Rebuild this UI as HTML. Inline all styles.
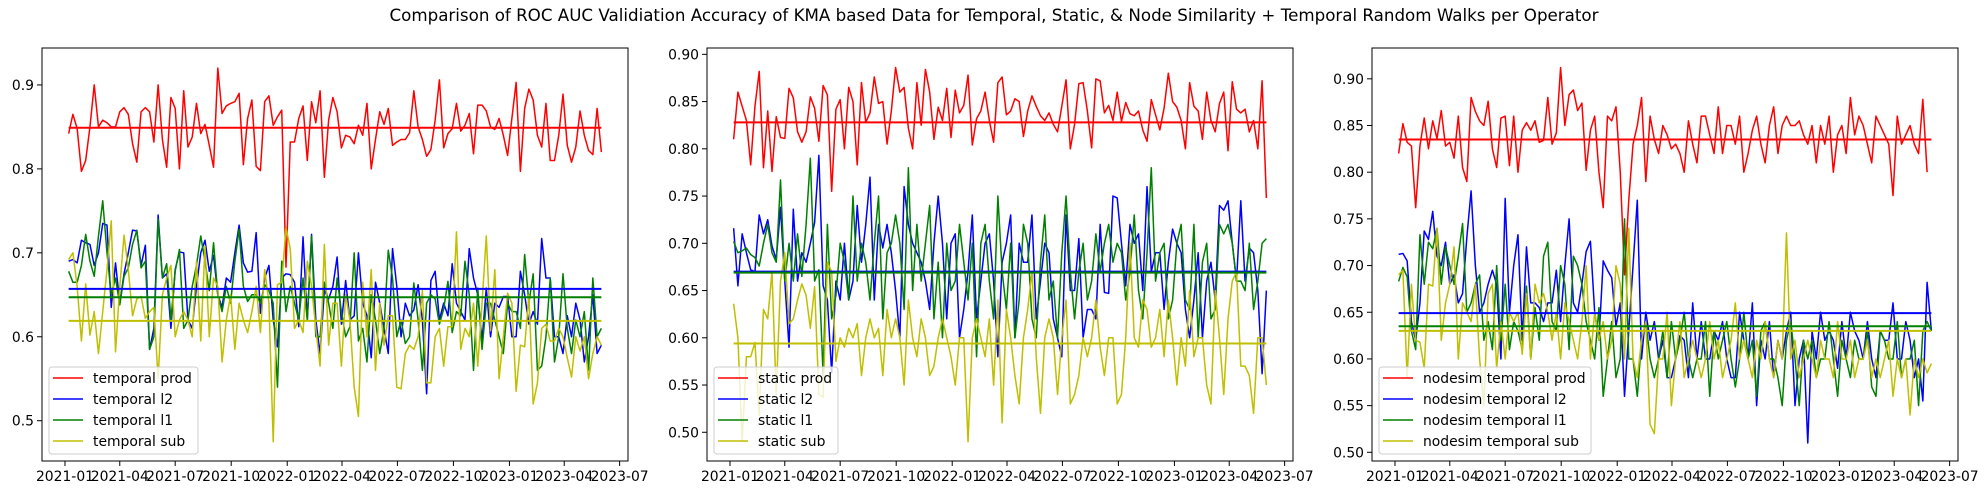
<!DOCTYPE html>
<html><head><meta charset="utf-8"><style>
html,body{margin:0;padding:0;background:#fff;}
svg{display:block;font-family:"DejaVu Sans","Liberation Sans",sans-serif;}
</style></head><body>
<svg id="fig" width="1988" height="495" viewBox="0 0 1988 495" xmlns="http://www.w3.org/2000/svg">
<text x="994" y="21" text-anchor="middle" font-size="16.7" fill="#000">Comparison of ROC AUC Validiation Accuracy of KMA based Data for Temporal, Static, &amp; Node Similarity + Temporal Random Walks per Operator</text>
</svg>
<script>
const N = 126;
const startDate = Date.UTC(2021,0,7);
const dates = [];
for (let i=0;i<N;i++) dates.push(startDate + i*7*86400000);
const tickLabels = ["2021-01","2021-04","2021-07","2021-10","2022-01","2022-04","2022-07","2022-10","2023-01","2023-04","2023-07"];

const p1Names = ["temporal prod","temporal l2","temporal l1","temporal sub"];
const p2Names = ["static prod","static l2","static l1","static sub"];
const p3Names = ["nodesim temporal prod","nodesim temporal l2","nodesim temporal l1","nodesim temporal sub"];

const p1Prod = [0.842,0.865,0.848,0.797,0.81,0.85,0.9,0.85,0.858,0.855,0.85,0.85,0.868,0.873,0.865,0.83,0.808,0.868,0.873,0.868,0.832,0.9,0.835,0.802,0.885,0.872,0.8,0.893,0.826,0.838,0.878,0.842,0.853,0.828,0.802,0.92,0.866,0.875,0.878,0.88,0.89,0.805,0.86,0.882,0.803,0.798,0.88,0.887,0.852,0.862,0.87,0.683,0.832,0.832,0.86,0.875,0.81,0.88,0.855,0.893,0.79,0.858,0.885,0.868,0.825,0.84,0.838,0.83,0.852,0.84,0.878,0.8,0.835,0.868,0.853,0.872,0.828,0.832,0.835,0.835,0.843,0.893,0.85,0.835,0.815,0.823,0.858,0.906,0.825,0.842,0.848,0.878,0.845,0.852,0.866,0.818,0.876,0.876,0.869,0.85,0.847,0.86,0.84,0.816,0.86,0.903,0.797,0.872,0.895,0.882,0.84,0.826,0.878,0.81,0.81,0.84,0.889,0.828,0.808,0.826,0.869,0.84,0.822,0.817,0.872,0.82];
const p1L2 = [0.69,0.692,0.688,0.715,0.712,0.71,0.685,0.7,0.735,0.733,0.635,0.688,0.64,0.675,0.7,0.727,0.726,0.685,0.709,0.585,0.61,0.745,0.67,0.675,0.61,0.68,0.701,0.7,0.62,0.61,0.66,0.7,0.715,0.678,0.697,0.65,0.635,0.67,0.665,0.7,0.733,0.688,0.677,0.678,0.724,0.628,0.67,0.685,0.62,0.588,0.67,0.675,0.674,0.665,0.612,0.719,0.62,0.722,0.62,0.58,0.655,0.645,0.66,0.695,0.615,0.667,0.62,0.625,0.7,0.64,0.625,0.575,0.665,0.64,0.61,0.58,0.705,0.66,0.6,0.64,0.625,0.632,0.662,0.62,0.532,0.667,0.678,0.62,0.64,0.625,0.687,0.64,0.63,0.62,0.705,0.67,0.65,0.595,0.658,0.6,0.64,0.635,0.648,0.648,0.6,0.6,0.678,0.65,0.615,0.63,0.615,0.717,0.67,0.67,0.6,0.6,0.58,0.625,0.6,0.64,0.62,0.57,0.6,0.65,0.58,0.59];
const p1L1 = [0.678,0.665,0.665,0.685,0.722,0.69,0.672,0.72,0.762,0.7,0.65,0.67,0.638,0.672,0.682,0.71,0.727,0.682,0.69,0.585,0.6,0.74,0.67,0.687,0.62,0.678,0.704,0.61,0.62,0.66,0.685,0.72,0.69,0.655,0.712,0.65,0.63,0.66,0.64,0.69,0.728,0.66,0.642,0.65,0.65,0.64,0.662,0.655,0.64,0.54,0.69,0.63,0.66,0.64,0.62,0.67,0.62,0.72,0.6,0.6,0.665,0.64,0.61,0.67,0.63,0.6,0.612,0.7,0.595,0.61,0.57,0.65,0.62,0.58,0.61,0.703,0.67,0.6,0.62,0.592,0.6,0.664,0.62,0.56,0.64,0.65,0.645,0.615,0.633,0.666,0.605,0.63,0.625,0.69,0.65,0.56,0.658,0.585,0.64,0.64,0.62,0.6,0.58,0.64,0.63,0.63,0.61,0.698,0.64,0.675,0.56,0.565,0.6,0.67,0.57,0.6,0.675,0.61,0.58,0.62,0.6,0.63,0.56,0.67,0.6,0.61];
const p1Sub = [0.692,0.7,0.66,0.595,0.663,0.602,0.63,0.58,0.63,0.68,0.738,0.582,0.66,0.721,0.68,0.625,0.645,0.648,0.622,0.63,0.635,0.55,0.65,0.67,0.685,0.6,0.62,0.63,0.62,0.6,0.69,0.595,0.708,0.6,0.67,0.66,0.57,0.62,0.65,0.585,0.64,0.62,0.605,0.63,0.66,0.605,0.68,0.64,0.475,0.662,0.665,0.73,0.705,0.61,0.62,0.605,0.69,0.66,0.61,0.565,0.71,0.59,0.64,0.64,0.565,0.65,0.62,0.54,0.505,0.665,0.6,0.68,0.56,0.64,0.59,0.625,0.625,0.54,0.538,0.58,0.59,0.585,0.6,0.655,0.545,0.545,0.6,0.61,0.565,0.612,0.612,0.725,0.585,0.61,0.6,0.64,0.565,0.64,0.72,0.607,0.68,0.55,0.6,0.652,0.64,0.535,0.59,0.588,0.65,0.52,0.545,0.61,0.615,0.595,0.595,0.61,0.6,0.575,0.552,0.6,0.583,0.6,0.55,0.58,0.6,0.59];
const p1Means = [0.849,0.657,0.647,0.619];

const p2Prod = [0.81,0.86,0.845,0.83,0.783,0.845,0.882,0.78,0.84,0.776,0.834,0.812,0.811,0.864,0.854,0.818,0.807,0.818,0.855,0.843,0.808,0.867,0.857,0.755,0.842,0.852,0.8,0.865,0.85,0.783,0.87,0.828,0.838,0.876,0.848,0.85,0.805,0.84,0.886,0.86,0.865,0.822,0.8,0.87,0.825,0.884,0.86,0.81,0.844,0.83,0.864,0.812,0.862,0.838,0.846,0.878,0.804,0.832,0.84,0.86,0.83,0.807,0.87,0.876,0.836,0.84,0.853,0.85,0.813,0.84,0.856,0.845,0.835,0.83,0.838,0.826,0.818,0.845,0.873,0.8,0.826,0.869,0.87,0.84,0.801,0.874,0.872,0.838,0.846,0.83,0.86,0.829,0.849,0.837,0.835,0.84,0.82,0.808,0.852,0.836,0.82,0.843,0.88,0.85,0.844,0.83,0.8,0.87,0.845,0.84,0.81,0.86,0.83,0.818,0.848,0.86,0.798,0.871,0.842,0.838,0.842,0.818,0.83,0.8,0.872,0.748];
const p2L2 = [0.716,0.655,0.71,0.69,0.672,0.67,0.73,0.71,0.725,0.697,0.683,0.738,0.66,0.59,0.736,0.66,0.69,0.68,0.7,0.722,0.793,0.655,0.64,0.563,0.66,0.64,0.7,0.64,0.66,0.74,0.68,0.72,0.77,0.64,0.72,0.695,0.72,0.69,0.65,0.6,0.76,0.72,0.7,0.69,0.68,0.66,0.63,0.7,0.75,0.7,0.62,0.7,0.71,0.6,0.63,0.67,0.73,0.62,0.66,0.7,0.71,0.66,0.58,0.68,0.7,0.73,0.6,0.7,0.68,0.68,0.73,0.62,0.66,0.7,0.69,0.62,0.6,0.58,0.73,0.65,0.65,0.705,0.6,0.63,0.63,0.62,0.72,0.648,0.647,0.75,0.748,0.7,0.655,0.72,0.7,0.71,0.65,0.76,0.67,0.69,0.69,0.63,0.68,0.715,0.7,0.69,0.63,0.6,0.64,0.69,0.6,0.66,0.68,0.64,0.74,0.735,0.745,0.7,0.66,0.745,0.66,0.695,0.69,0.65,0.562,0.65,0.6,0.675,0.67,0.69,0.625];
const p2L1 = [0.702,0.69,0.692,0.695,0.688,0.685,0.676,0.7,0.72,0.69,0.68,0.767,0.66,0.7,0.66,0.71,0.665,0.72,0.79,0.66,0.672,0.56,0.72,0.62,0.645,0.7,0.68,0.64,0.75,0.66,0.7,0.68,0.64,0.7,0.75,0.62,0.69,0.7,0.73,0.7,0.63,0.78,0.65,0.72,0.66,0.7,0.74,0.62,0.68,0.6,0.7,0.65,0.66,0.72,0.68,0.64,0.7,0.58,0.7,0.72,0.66,0.62,0.75,0.67,0.63,0.7,0.6,0.64,0.72,0.7,0.62,0.6,0.68,0.73,0.64,0.66,0.6,0.69,0.75,0.67,0.62,0.67,0.7,0.64,0.66,0.71,0.67,0.7,0.72,0.68,0.7,0.69,0.64,0.67,0.73,0.65,0.62,0.69,0.78,0.66,0.69,0.7,0.62,0.64,0.7,0.72,0.64,0.63,0.72,0.6,0.68,0.7,0.62,0.63,0.72,0.71,0.72,0.7,0.66,0.66,0.65,0.7,0.63,0.66,0.7,0.705,0.58];
const p2Sub = [0.636,0.6,0.49,0.58,0.58,0.595,0.518,0.63,0.62,0.67,0.54,0.66,0.69,0.615,0.62,0.64,0.657,0.645,0.61,0.654,0.54,0.537,0.68,0.67,0.575,0.6,0.59,0.61,0.6,0.615,0.56,0.6,0.62,0.6,0.61,0.56,0.63,0.6,0.62,0.6,0.55,0.64,0.6,0.58,0.62,0.6,0.56,0.57,0.6,0.62,0.6,0.58,0.55,0.6,0.6,0.49,0.6,0.62,0.6,0.58,0.62,0.55,0.64,0.51,0.63,0.6,0.56,0.53,0.6,0.63,0.67,0.58,0.52,0.6,0.62,0.6,0.54,0.6,0.64,0.53,0.54,0.56,0.6,0.58,0.6,0.64,0.59,0.56,0.6,0.6,0.53,0.54,0.6,0.7,0.6,0.59,0.64,0.63,0.59,0.6,0.63,0.58,0.64,0.6,0.55,0.6,0.57,0.65,0.58,0.6,0.6,0.55,0.53,0.65,0.6,0.54,0.62,0.66,0.67,0.57,0.57,0.56,0.52,0.6,0.6,0.55,0.51];
const p2Means = [0.828,0.670,0.669,0.594];

const p3Prod = [0.82,0.852,0.832,0.828,0.762,0.828,0.858,0.825,0.855,0.836,0.866,0.828,0.832,0.815,0.86,0.805,0.79,0.88,0.865,0.855,0.85,0.876,0.825,0.805,0.858,0.86,0.807,0.86,0.8,0.845,0.853,0.845,0.855,0.832,0.834,0.88,0.83,0.842,0.912,0.85,0.883,0.888,0.866,0.874,0.802,0.845,0.86,0.8,0.762,0.86,0.855,0.87,0.8,0.69,0.77,0.83,0.85,0.88,0.79,0.86,0.835,0.82,0.85,0.84,0.825,0.83,0.82,0.8,0.855,0.83,0.81,0.86,0.86,0.84,0.82,0.87,0.82,0.85,0.85,0.83,0.86,0.8,0.82,0.845,0.86,0.83,0.81,0.85,0.87,0.82,0.85,0.86,0.85,0.85,0.855,0.84,0.83,0.85,0.81,0.85,0.83,0.86,0.8,0.84,0.85,0.82,0.88,0.84,0.86,0.85,0.83,0.81,0.86,0.85,0.84,0.83,0.775,0.86,0.83,0.84,0.85,0.83,0.82,0.878,0.8];
const p3L2 = [0.712,0.713,0.705,0.64,0.62,0.66,0.737,0.728,0.758,0.71,0.7,0.725,0.68,0.69,0.66,0.67,0.73,0.78,0.7,0.65,0.66,0.68,0.695,0.68,0.6,0.772,0.65,0.7,0.733,0.62,0.72,0.66,0.66,0.655,0.64,0.66,0.66,0.695,0.64,0.7,0.75,0.66,0.65,0.68,0.715,0.726,0.65,0.62,0.705,0.695,0.687,0.635,0.66,0.56,0.63,0.7,0.77,0.6,0.65,0.62,0.64,0.6,0.62,0.58,0.58,0.6,0.625,0.62,0.58,0.66,0.6,0.64,0.6,0.6,0.63,0.62,0.64,0.6,0.58,0.58,0.65,0.62,0.6,0.66,0.55,0.62,0.6,0.64,0.58,0.62,0.6,0.63,0.65,0.55,0.6,0.62,0.51,0.63,0.6,0.65,0.62,0.63,0.62,0.59,0.64,0.6,0.65,0.63,0.62,0.6,0.64,0.6,0.58,0.63,0.62,0.62,0.66,0.6,0.6,0.64,0.62,0.58,0.6,0.555,0.682,0.63];
const p3L1 = [0.683,0.698,0.688,0.63,0.61,0.733,0.68,0.725,0.718,0.74,0.68,0.72,0.7,0.68,0.71,0.745,0.65,0.66,0.68,0.69,0.62,0.64,0.61,0.7,0.62,0.68,0.61,0.64,0.63,0.61,0.678,0.6,0.655,0.62,0.71,0.725,0.64,0.63,0.7,0.68,0.61,0.71,0.7,0.68,0.64,0.62,0.6,0.655,0.56,0.6,0.64,0.58,0.6,0.75,0.6,0.6,0.56,0.62,0.64,0.6,0.58,0.6,0.63,0.58,0.64,0.6,0.62,0.65,0.6,0.58,0.6,0.6,0.64,0.56,0.63,0.6,0.62,0.64,0.6,0.57,0.6,0.65,0.6,0.62,0.56,0.63,0.64,0.6,0.6,0.58,0.55,0.62,0.64,0.6,0.55,0.62,0.6,0.62,0.58,0.6,0.6,0.64,0.6,0.56,0.62,0.6,0.58,0.62,0.6,0.6,0.63,0.57,0.56,0.63,0.62,0.6,0.6,0.64,0.58,0.6,0.6,0.62,0.55,0.63,0.64,0.63];
const p3Sub = [0.69,0.695,0.58,0.68,0.62,0.618,0.59,0.68,0.678,0.74,0.62,0.66,0.68,0.72,0.6,0.66,0.65,0.64,0.68,0.6,0.55,0.67,0.68,0.59,0.64,0.6,0.65,0.64,0.65,0.605,0.67,0.6,0.68,0.66,0.67,0.65,0.62,0.65,0.6,0.66,0.64,0.62,0.6,0.64,0.7,0.6,0.65,0.62,0.64,0.6,0.62,0.7,0.68,0.6,0.74,0.6,0.58,0.62,0.64,0.53,0.52,0.6,0.6,0.65,0.55,0.6,0.64,0.58,0.6,0.62,0.6,0.58,0.6,0.64,0.6,0.62,0.58,0.6,0.62,0.66,0.6,0.62,0.6,0.58,0.62,0.6,0.64,0.6,0.58,0.62,0.6,0.735,0.6,0.62,0.58,0.6,0.62,0.6,0.58,0.62,0.6,0.6,0.58,0.64,0.6,0.6,0.62,0.58,0.6,0.6,0.62,0.58,0.6,0.58,0.6,0.62,0.56,0.6,0.58,0.6,0.54,0.6,0.58,0.6,0.585,0.595];
const p3Means = [0.835,0.649,0.635,0.630];

const p1YTicks = [0.5,0.6,0.7,0.8,0.9];
const p2YTicks = [0.50,0.55,0.60,0.65,0.70,0.75,0.80,0.85,0.90];
const p3YTicks = [0.50,0.55,0.60,0.65,0.70,0.75,0.80,0.85,0.90];

const colors = ["#ff0000","#0000ff","#008000","#bfbf00"];
const NS = "http://www.w3.org/2000/svg";
const svg = document.getElementById('fig');
function mk(tag, attrs, parent){
  const e = document.createElementNS(NS, tag);
  for (const k in attrs) e.setAttribute(k, attrs[k]);
  (parent||svg).appendChild(e);
  return e;
}
const tickDates = tickLabels.map(s => { const p = s.split('-'); return Date.UTC(+p[0], +p[1]-1, 1); });

function drawPanel(pid, left, right, top, bottom, ymin, ymax, yticks, decimals, series, means, names, legendW){
  const g = mk('g', {});
  
  
  const d0 = dates[0], d1 = dates[N-1], span = d1 - d0;
  const xmin = d0 - 0.05*span, xmax = d1 + 0.05*span;
  const xs = t => left + (t - xmin)/(xmax - xmin)*(right-left);
  const ys = v => bottom - (v - ymin)/(ymax - ymin)*(bottom-top);
  const clip = mk('clipPath', {id: pid+'-clip'}, g);
  mk('rect', {x:left, y:top, width:right-left, height:bottom-top}, clip);
  const plot = mk('g', {'clip-path':'url(#'+pid+'-clip)'}, g);
  series.forEach((vals, si) => {
    const n = Math.min(vals.length, N);
    let d = '';
    for (let i=0;i<n;i++) d += (i?'L':'M') + xs(dates[i]).toFixed(2) + ',' + ys(vals[i]).toFixed(2);
    const p = mk('path', {d:d, fill:'none', stroke:colors[si], 'stroke-width':1.5, 'stroke-linejoin':'round'}, plot);
    
    
  });
  means.forEach((m, si) => {
    const l = mk('line', {x1:xs(dates[0]), x2:xs(dates[N-1]), y1:ys(m), y2:ys(m), stroke:colors[si], 'stroke-width':2}, plot);
    
    
  });
  const frame = mk('rect', {x:left, y:top, width:right-left, height:bottom-top, fill:'none', stroke:'#000', 'stroke-width':1}, g);
  
  
  yticks.forEach(v => {
    const y = ys(v);
    mk('line', {x1:left-5, x2:left, y1:y, y2:y, stroke:'#000', 'stroke-width':1}, g);
    const t = mk('text', {x:left-8, y:y+5, 'text-anchor':'end', 'font-size':13.9, fill:'#000'}, g);
    t.textContent = v.toFixed(decimals);
    
    
  });
  tickDates.forEach((td, i) => {
    const x = xs(td);
    mk('line', {x1:x, x2:x, y1:bottom, y2:bottom+5, stroke:'#000', 'stroke-width':1}, g);
    const t = mk('text', {x:x, y:bottom+20, 'text-anchor':'middle', 'font-size':13.9, fill:'#000'}, g);
    t.textContent = tickLabels[i];
    
    
  });
  const lg = mk('g', {}, g);
  
  
  const lx = left + 7, ly = 367;
  mk('rect', {x:lx, y:ly, width:legendW, height:87, rx:3, fill:'#fff', 'fill-opacity':0.8, stroke:'#ccc', 'stroke-width':1}, lg);
  names.forEach((nm, si) => {
    const y = ly + 11 + si*21;
    mk('line', {x1:lx+4, x2:lx+34, y1:y, y2:y, stroke:colors[si], 'stroke-width':1.5}, lg);
    const t = mk('text', {x:lx+44, y:y+5, 'font-size':13.9, fill:'#000'}, lg);
    t.textContent = nm;
    
    
  });
}
drawPanel('temporal-panel', 42, 628, 48, 461, 0.452, 0.944, p1YTicks, 1, [p1Prod,p1L2,p1L1,p1Sub], p1Means, p1Names, 149);
drawPanel('static-panel', 707, 1293, 48, 461, 0.4696, 0.9067, p2YTicks, 2, [p2Prod,p2L2,p2L1,p2Sub], p2Means, p2Names, 124);
drawPanel('nodesim-panel', 1372, 1958, 48, 461, 0.4907, 0.933, p3YTicks, 2, [p3Prod,p3L2,p3L1,p3Sub], p3Means, p3Names, 212);
</script>
</body></html>
